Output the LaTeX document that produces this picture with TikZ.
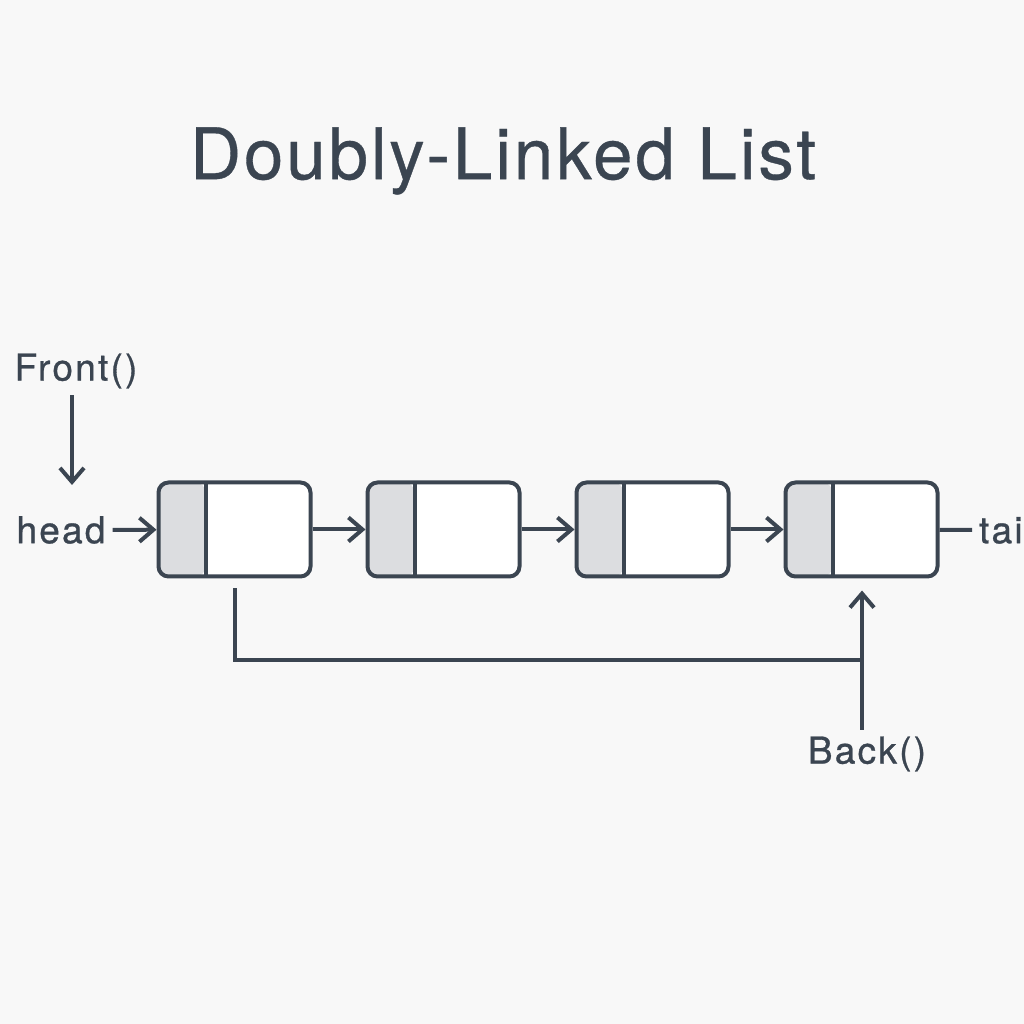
\documentclass[tikz,border=0pt]{standalone}
\usepackage{fontspec}
\setmainfont{TeX Gyre Heros}
\newfontfamily\titlefont{TeX Gyre Heros}[LetterSpace=4, FakeBold=0.5]
\newfontfamily\labelfont{TeX Gyre Heros}[LetterSpace=6, FakeBold=0.8]
\usetikzlibrary{arrows.meta}

\definecolor{ink}{HTML}{3B4551}
\definecolor{cellgray}{HTML}{DCDDE0}
\definecolor{paper}{HTML}{F8F8F8}

\begin{document}
\begin{tikzpicture}
[
	x=0.5pt, y=0.5pt,
	listnode/.style={draw=ink, line width=2pt, fill=white, rounded corners=5pt,
		minimum width=76pt, minimum height=47pt, inner sep=0pt,
		path picture={
			\fill[cellgray] (path picture bounding box.south west) rectangle ([xshift=23.5pt]path picture bounding box.north west);
			\draw[ink, line width=2pt] ([xshift=23.5pt]path picture bounding box.south west) -- ([xshift=23.5pt]path picture bounding box.north west);
		}},
	label/.style={text=ink, font=\labelfont\fontsize{18.5}{21}\selectfont},
	link/.style={draw=ink, line width=2pt, -{Straight Barb[length=7pt, width=12pt, line width=2pt]}},
	wire/.style={draw=ink, line width=2pt}
]

	% background and page size
	\fill[paper] (0,0) rectangle (1024,1024);
	\clip (0,0) rectangle (1024,1024);

	\node[text=ink, font=\titlefont\fontsize{35.5}{40}\selectfont] at (503,863) (title) {Doubly-Linked List};

	\node[listnode] at (234.5,494.5) (n1) {};
	\node[listnode] at (443.5,494.5) (n2) {};
	\node[listnode] at (652.5,494.5) (n3) {};
	\node[listnode] at (861.5,494.5) (n4) {};

	\node[label] at (76,653) (front) {Front()};
	\node[label] at (61,494) (head) {head};
	\node[label,anchor=west] at (972,494) (tail) {tail};
	\node[label] at (867,270) (back) {Back()};

	\coordinate (fronttip) at (72,539);
	\coordinate (join) at (862,364);

	\draw[link] (front.south -| fronttip) -- (fronttip);
	\draw[link] (head) -- (n1);
	\draw[link] (n1) -- (n2);
	\draw[link] (n2) -- (n3);
	\draw[link] (n3) -- (n4);
	\draw[wire] (n4) -- (tail);

	\draw[wire] ([yshift=-5pt]n1.south) |- (join);
	\draw[link, shorten >=6pt] (back.north -| join) -- (n4.south -| join);

\end{tikzpicture}
\end{document}
